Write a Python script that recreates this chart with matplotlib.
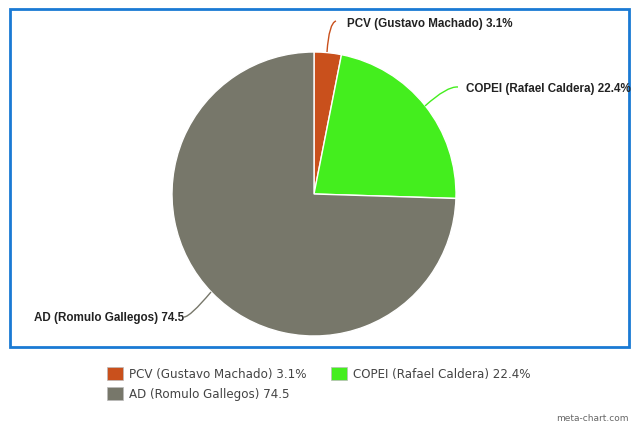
import matplotlib
matplotlib.use("Agg")
import matplotlib.pyplot as plt
from matplotlib.path import Path
from matplotlib.patches import PathPatch, Rectangle

labels = ["PCV (Gustavo Machado) 3.1%", "COPEI (Rafael Caldera) 22.4%", "AD (Romulo Gallegos) 74.5"]
values = [3.1, 22.4, 74.5]
colors = ["#C9501C", "#44EE1E", "#77776A"]

W, H = 640, 427
fig = plt.figure(figsize=(W / 100, H / 100), dpi=100)
ax = fig.add_axes([0, 0, 1, 1])

def Y(y):
    return H - y

ax.pie(values, colors=colors, startangle=90, counterclock=False,
       center=(314, Y(195)), radius=142,
       wedgeprops=dict(edgecolor="white", linewidth=1.0), frame=True)
ax.set_xlim(0, W)
ax.set_ylim(0, H)
ax.set_aspect("auto")
ax.axis("off")

# frame box
ax.add_patch(Rectangle((10, Y(348)), 619, 338, fill=False, edgecolor="#1A7AD4", linewidth=2.0))

# connectors (quadratic curves)
connectors = [
    [(327, 53), (329, 24), (336, 22)],
    [(425, 107), (447, 87), (458, 88)],
    [(211, 293), (190, 318), (184, 318)],
]
for pts, c in zip(connectors, colors):
    p0, p1, p2 = pts
    path = Path([(p0[0], Y(p0[1])), (p1[0], Y(p1[1])), (p2[0], Y(p2[1]))],
                [Path.MOVETO, Path.CURVE3, Path.CURVE3])
    ax.add_patch(PathPatch(path, fill=False, edgecolor=c, linewidth=1.0))

lab_font = dict(family="Liberation Sans", fontweight="bold", fontsize=8.35, color="#222222")
ax.text(347, Y(24), labels[0], ha="left", va="center", **lab_font)
ax.text(466, Y(89), labels[1], ha="left", va="center", **lab_font)
ax.text(184, Y(318), labels[2], ha="right", va="center", **lab_font)

# legend
leg = [(107, 368, 0), (331, 368, 1), (107, 388, 2)]
for x, y, i in leg:
    ax.add_patch(Rectangle((x, Y(y + 13)), 16, 13, facecolor=colors[i], edgecolor="#bbbbbb", linewidth=0.5))
    ax.text(x + 22, Y(y + 7), labels[i], ha="left", va="center",
            family="DejaVu Sans", fontsize=8.6, color="#444444")

ax.text(629, Y(419), "meta-chart.com", ha="right", va="center",
        family="DejaVu Sans", fontsize=6.5, color="#666666")

fig.savefig("out.png", dpi=100)
